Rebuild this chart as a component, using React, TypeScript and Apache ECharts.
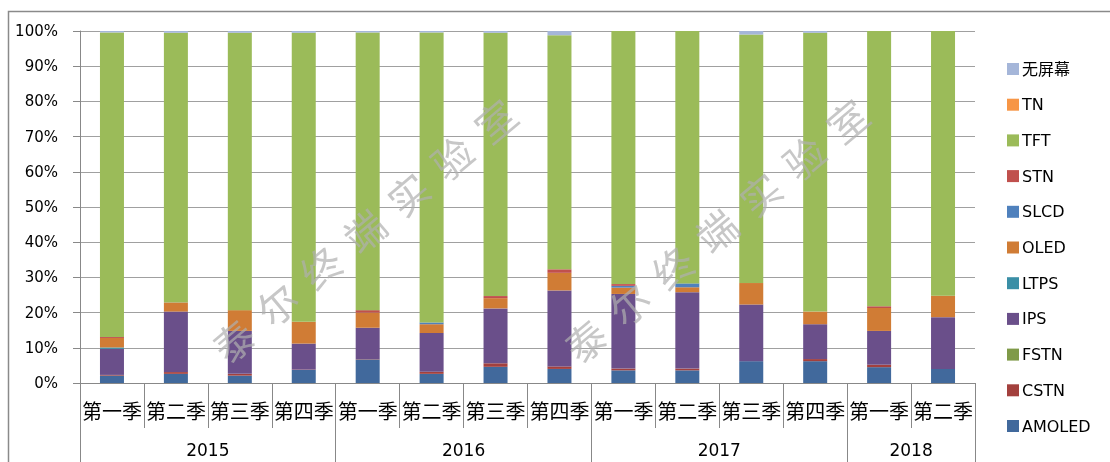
import React, { useEffect, useRef } from "react";
import * as echarts from "echarts";

const quarters = ["第一季", "第二季", "第三季", "第四季", "第一季", "第二季", "第三季", "第四季", "第一季", "第二季", "第三季", "第四季", "第一季", "第二季"];
const years = ["2015", "2016", "2017", "2018"];
const quartersPerYear = [4, 4, 4, 2];
const yTicks = [0, 10, 20, 30, 40, 50, 60, 70, 80, 90, 100];

const AMOLED = [2.1, 2.6, 2.1, 3.7, 6.7, 2.6, 4.6, 4.0, 3.6, 3.6, 6.2, 6.2, 4.5, 4.0];
const CSTN = [0.2, 0.5, 0.5, 0.1, 0.1, 0.6, 1.0, 0.7, 0.5, 0.5, 0, 0.6, 0.7, 0];
const FSTN = [0, 0, 0, 0, 0, 0, 0, 0, 0, 0, 0, 0, 0, 0];
const IPS = [7.4, 17.2, 12.2, 7.4, 8.9, 11.0, 15.6, 21.6, 21.2, 21.7, 16.1, 9.9, 9.6, 14.7];
const LTPS = [0.4, 0, 0, 0, 0, 0, 0, 0, 0, 0, 0, 0, 0, 0];
const OLED = [2.7, 2.5, 5.9, 6.2, 4.3, 2.5, 2.9, 5.0, 1.8, 1.4, 6.1, 3.6, 6.5, 6.1];
const SLCD = [0, 0, 0, 0, 0, 0.5, 0, 0, 0.5, 1.1, 0, 0, 0, 0];
const STN = [0.3, 0.1, 0, 0, 0.7, 0, 0.6, 1.0, 0.5, 0, 0, 0, 0.5, 0];
const TFT = [86.5, 76.6, 78.8, 82.1, 78.9, 82.4, 74.8, 66.5, 71.9, 71.7, 70.6, 79.2, 78.2, 75.2];
const TN = [0, 0, 0, 0, 0, 0, 0, 0, 0, 0, 0, 0, 0, 0];
const NOSCREEN = [0.4, 0.5, 0.5, 0.5, 0.4, 0.4, 0.5, 1.2, 0, 0, 1.0, 0.5, 0, 0];

const seriesNames = ["AMOLED", "CSTN", "FSTN", "IPS", "LTPS", "OLED", "SLCD", "STN", "TFT", "TN", "无屏幕"];
const seriesValues = [AMOLED, CSTN, FSTN, IPS, LTPS, OLED, SLCD, STN, TFT, TN, NOSCREEN];
const seriesColors = ["#41699c", "#a3403d", "#7f9a48", "#6a4f8a", "#3a8fa6", "#d07c35", "#4f81bd", "#c0504d", "#9bbb59", "#f79646", "#a5b6d9"];

const watermark = "泰尔终端实验室";

export default function App() {
  const ref = useRef<HTMLDivElement>(null);
  useEffect(() => {
    if (!ref.current) return;
    const chart = echarts.init(ref.current, null, { renderer: "svg" });

    const bounds: number[] = [0];
    quartersPerYear.forEach((n) => bounds.push(bounds[bounds.length - 1] + n));
    const mids = years.map((_, i) => (bounds[i] + bounds[i + 1]) / 2);
    const total = bounds[bounds.length - 1];

    const wmGroup = (x: number, y: number) => ({
      type: "group",
      x,
      y,
      rotation: (40 * Math.PI) / 180,
      silent: true,
      z: 100,
      zlevel: 1,
      children: watermark.split("").map((ch, i) => ({
        type: "text",
        x: i * 57,
        y: 0,
        z: 100,
        zlevel: 1,
        style: {
          text: ch,
          fontSize: 40,
          fontFamily: "Noto Sans CJK SC",
          fill: "rgba(175,175,175,0.7)",
          align: "center",
          verticalAlign: "middle",
        },
      })),
    });

    const gray = "#a0a0a0";
    chart.setOption({
      animation: false,
      grid: { left: 80, right: 135, top: 31, bottom: 79, containLabel: false },
      legend: {
        orient: "vertical",
        left: 1002,
        top: 56,
        itemWidth: 12,
        itemHeight: 12,
        itemGap: 19.7,
        icon: "rect",
        data: [...seriesNames].reverse(),
        textStyle: { fontSize: 16, lineHeight: 16, color: "#000", fontFamily: "DejaVu Sans, Noto Sans CJK SC", padding: [0, 0, 0, -2] },
      },
      xAxis: [
        {
          type: "category",
          data: quarters,
          axisLine: { lineStyle: { color: "#888" } },
          axisTick: { show: true, interval: 0, length: 45, lineStyle: { color: "#888" } },
          axisLabel: { interval: 0, fontSize: 20, margin: 17, color: "#000", fontFamily: "Noto Sans CJK SC" },
        },
        {
          type: "value",
          min: 0,
          max: total,
          position: "bottom",
          axisLine: { show: false },
          splitLine: { show: false },
          axisTick: { show: true, customValues: bounds, length: 79, lineStyle: { color: "#888" } },
          axisLabel: {
            customValues: mids,
            formatter: (v: number) => {
              const i = mids.indexOf(v);
              return i >= 0 ? years[i] : "";
            },
            margin: 58,
            fontSize: 17,
            color: "#000",
            fontFamily: "DejaVu Sans",
          },
        },
      ],
      yAxis: {
        type: "value",
        min: yTicks[0],
        max: yTicks[yTicks.length - 1],
        interval: 10,
        axisLine: { show: true, lineStyle: { color: "#888" } },
        axisTick: { show: true, length: 7, lineStyle: { color: "#888" } },
        splitLine: { lineStyle: { color: gray } },
        axisLabel: { formatter: "{value}%", fontSize: 15, margin: 22, color: "#000", fontFamily: "DejaVu Sans" },
      },
      series: seriesNames.map((name, i) => ({
        name,
        type: "bar",
        stack: "total",
        barWidth: 24,
        data: seriesValues[i],
        itemStyle: { color: seriesColors[i] },
      })),
      graphic: [
        {
          type: "rect",
          shape: { x: 8.5, y: 11.5, width: 1200, height: 600 },
          style: { fill: "none", stroke: "#8a8a8a", lineWidth: 1.5 },
          silent: true,
        },
        wmGroup(233, 340),
        wmGroup(585, 340),
      ],
    });
    return () => chart.dispose();
  }, []);
  return <div ref={ref} style={{ position: "fixed", left: 0, top: 0, width: 1110, height: 462 }} />;
}
